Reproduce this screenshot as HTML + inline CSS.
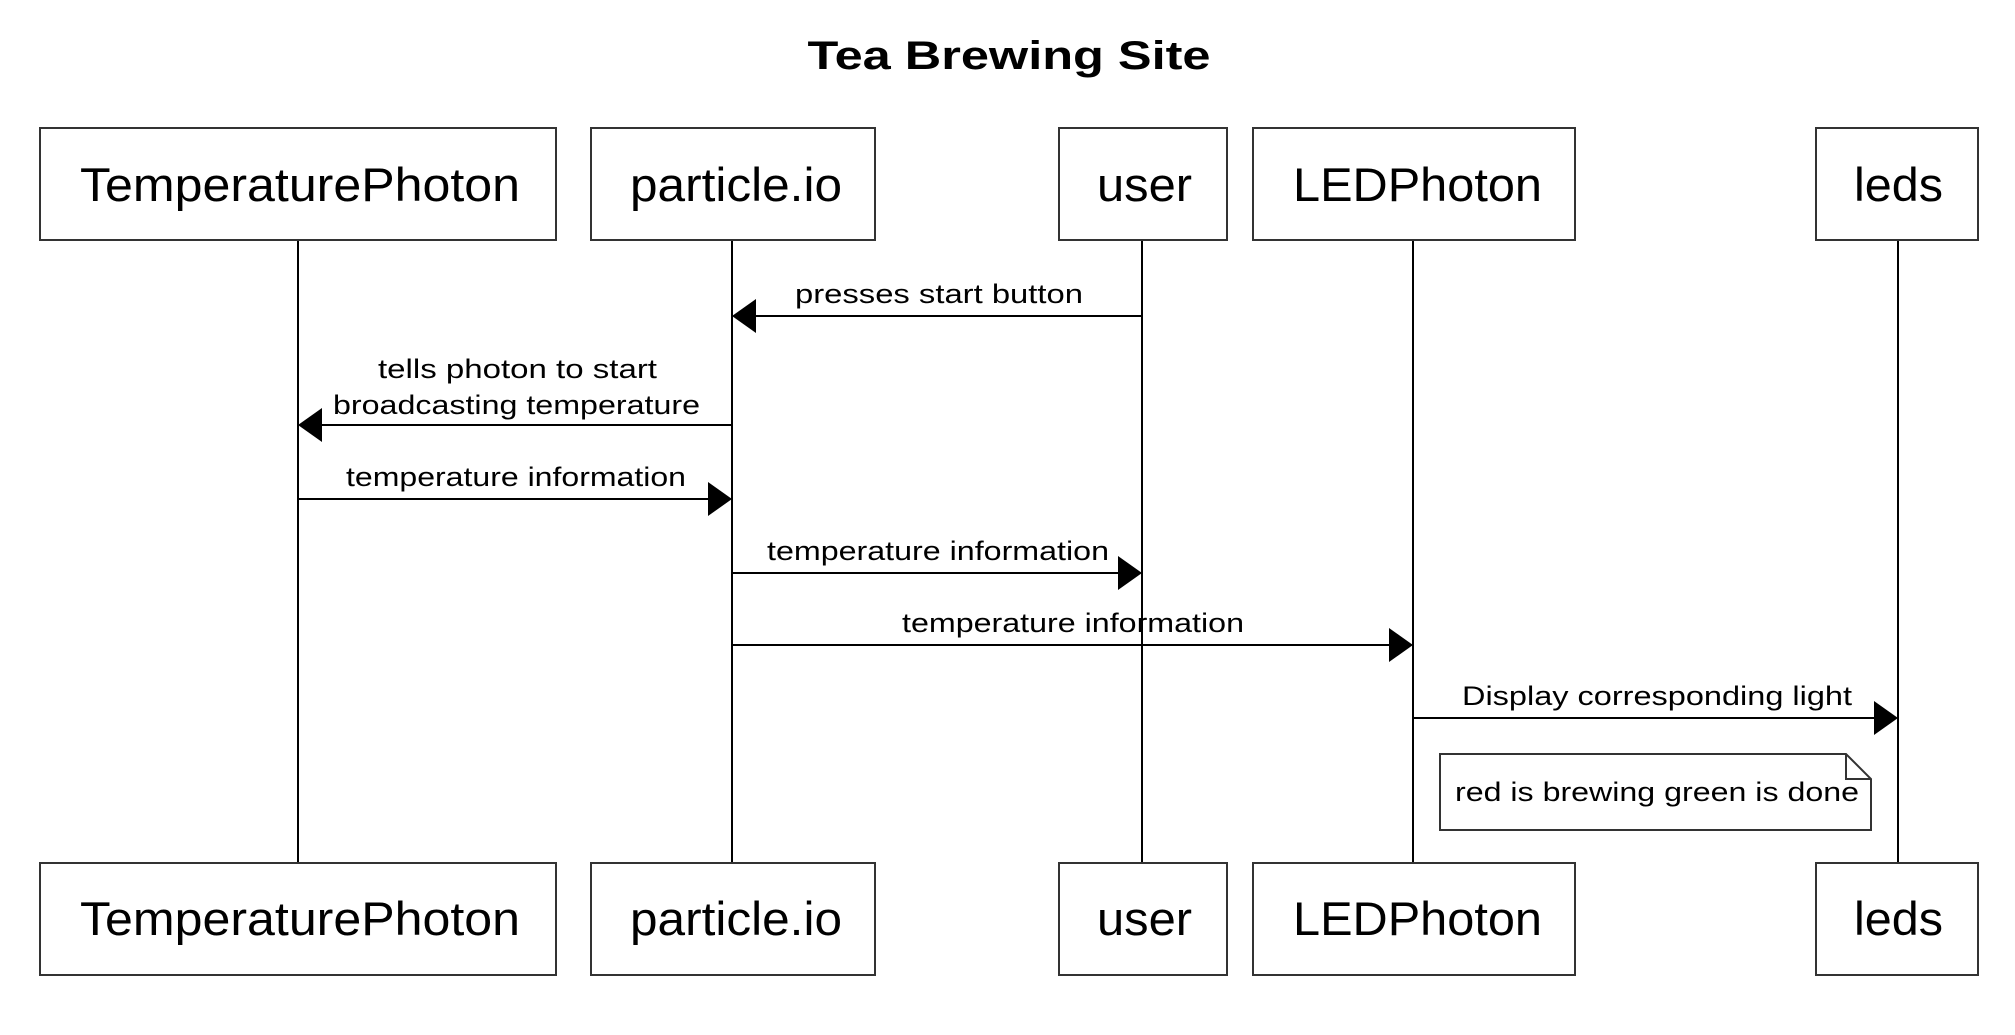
<!DOCTYPE html>
<html><head><meta charset="utf-8"><style>
html,body{margin:0;padding:0;background:#fff;}
svg{display:block;}
text{font-family:"Liberation Sans",Arial,sans-serif;fill:#000;}
</style></head><body>
<svg width="2015" height="1035" viewBox="0 0 2015 1035" xmlns="http://www.w3.org/2000/svg">
<rect width="2015" height="1035" fill="#fff"/>
<text x="1009" y="69" font-size="40" font-weight="bold" text-anchor="middle" textLength="403" lengthAdjust="spacingAndGlyphs">Tea Brewing Site</text>
<g stroke="#000" stroke-width="2">
<line x1="298" y1="240" x2="298" y2="863"/>
<line x1="732" y1="240" x2="732" y2="863"/>
<line x1="1142" y1="240" x2="1142" y2="863"/>
<line x1="1413" y1="240" x2="1413" y2="863"/>
<line x1="1898" y1="240" x2="1898" y2="863"/>
</g>
<g fill="#fff" stroke="#333" stroke-width="2">
<rect x="40" y="128" width="516" height="112"/>
<rect x="591" y="128" width="284" height="112"/>
<rect x="1059" y="128" width="168" height="112"/>
<rect x="1253" y="128" width="322" height="112"/>
<rect x="1816" y="128" width="162" height="112"/>
<rect x="40" y="863" width="516" height="112"/>
<rect x="591" y="863" width="284" height="112"/>
<rect x="1059" y="863" width="168" height="112"/>
<rect x="1253" y="863" width="322" height="112"/>
<rect x="1816" y="863" width="162" height="112"/>
</g>
<g font-size="47">
<text x="80" y="201" textLength="440" lengthAdjust="spacingAndGlyphs">TemperaturePhoton</text>
<text x="630" y="201" textLength="212" lengthAdjust="spacingAndGlyphs">particle.io</text>
<text x="1097" y="201" textLength="95" lengthAdjust="spacingAndGlyphs">user</text>
<text x="1293" y="201" textLength="249" lengthAdjust="spacingAndGlyphs">LEDPhoton</text>
<text x="1854" y="201" textLength="89" lengthAdjust="spacingAndGlyphs">leds</text>
<text x="80" y="935" textLength="440" lengthAdjust="spacingAndGlyphs">TemperaturePhoton</text>
<text x="630" y="935" textLength="212" lengthAdjust="spacingAndGlyphs">particle.io</text>
<text x="1097" y="935" textLength="95" lengthAdjust="spacingAndGlyphs">user</text>
<text x="1293" y="935" textLength="249" lengthAdjust="spacingAndGlyphs">LEDPhoton</text>
<text x="1854" y="935" textLength="89" lengthAdjust="spacingAndGlyphs">leds</text>
</g>
<g stroke="#000" stroke-width="2">
<line x1="1142" y1="316" x2="754" y2="316"/>
<line x1="732" y1="425" x2="320" y2="425"/>
<line x1="298" y1="499" x2="710" y2="499"/>
<line x1="732" y1="573" x2="1120" y2="573"/>
<line x1="732" y1="645" x2="1391" y2="645"/>
<line x1="1413" y1="718" x2="1876" y2="718"/>
</g>
<g fill="#000">
<polygon points="732,316 756,299 756,333"/>
<polygon points="298,425 322,408 322,442"/>
<polygon points="732,499 708,482 708,516"/>
<polygon points="1142,573 1118,556 1118,590"/>
<polygon points="1413,645 1389,628 1389,662"/>
<polygon points="1898,718 1874,701 1874,735"/>
</g>
<g font-size="27">
<text x="795" y="303" textLength="288" lengthAdjust="spacingAndGlyphs">presses start button</text>
<text x="378" y="378" textLength="279" lengthAdjust="spacingAndGlyphs">tells photon to start</text>
<text x="333" y="414" textLength="367" lengthAdjust="spacingAndGlyphs">broadcasting temperature</text>
<text x="346" y="486" textLength="340" lengthAdjust="spacingAndGlyphs">temperature information</text>
<text x="767" y="560" textLength="342" lengthAdjust="spacingAndGlyphs">temperature information</text>
<text x="902" y="632" textLength="342" lengthAdjust="spacingAndGlyphs">temperature information</text>
<text x="1462" y="705" textLength="390" lengthAdjust="spacingAndGlyphs">Display corresponding light</text>
</g>
<path d="M1440,754 L1846,754 L1871,779 L1871,830 L1440,830 Z" fill="#fff" stroke="#333" stroke-width="2"/>
<path d="M1846,754 L1846,779 L1871,779" fill="none" stroke="#333" stroke-width="2"/>
<text x="1455" y="801" font-size="27" textLength="404" lengthAdjust="spacingAndGlyphs">red is brewing green is done</text>
</svg>
</body></html>
